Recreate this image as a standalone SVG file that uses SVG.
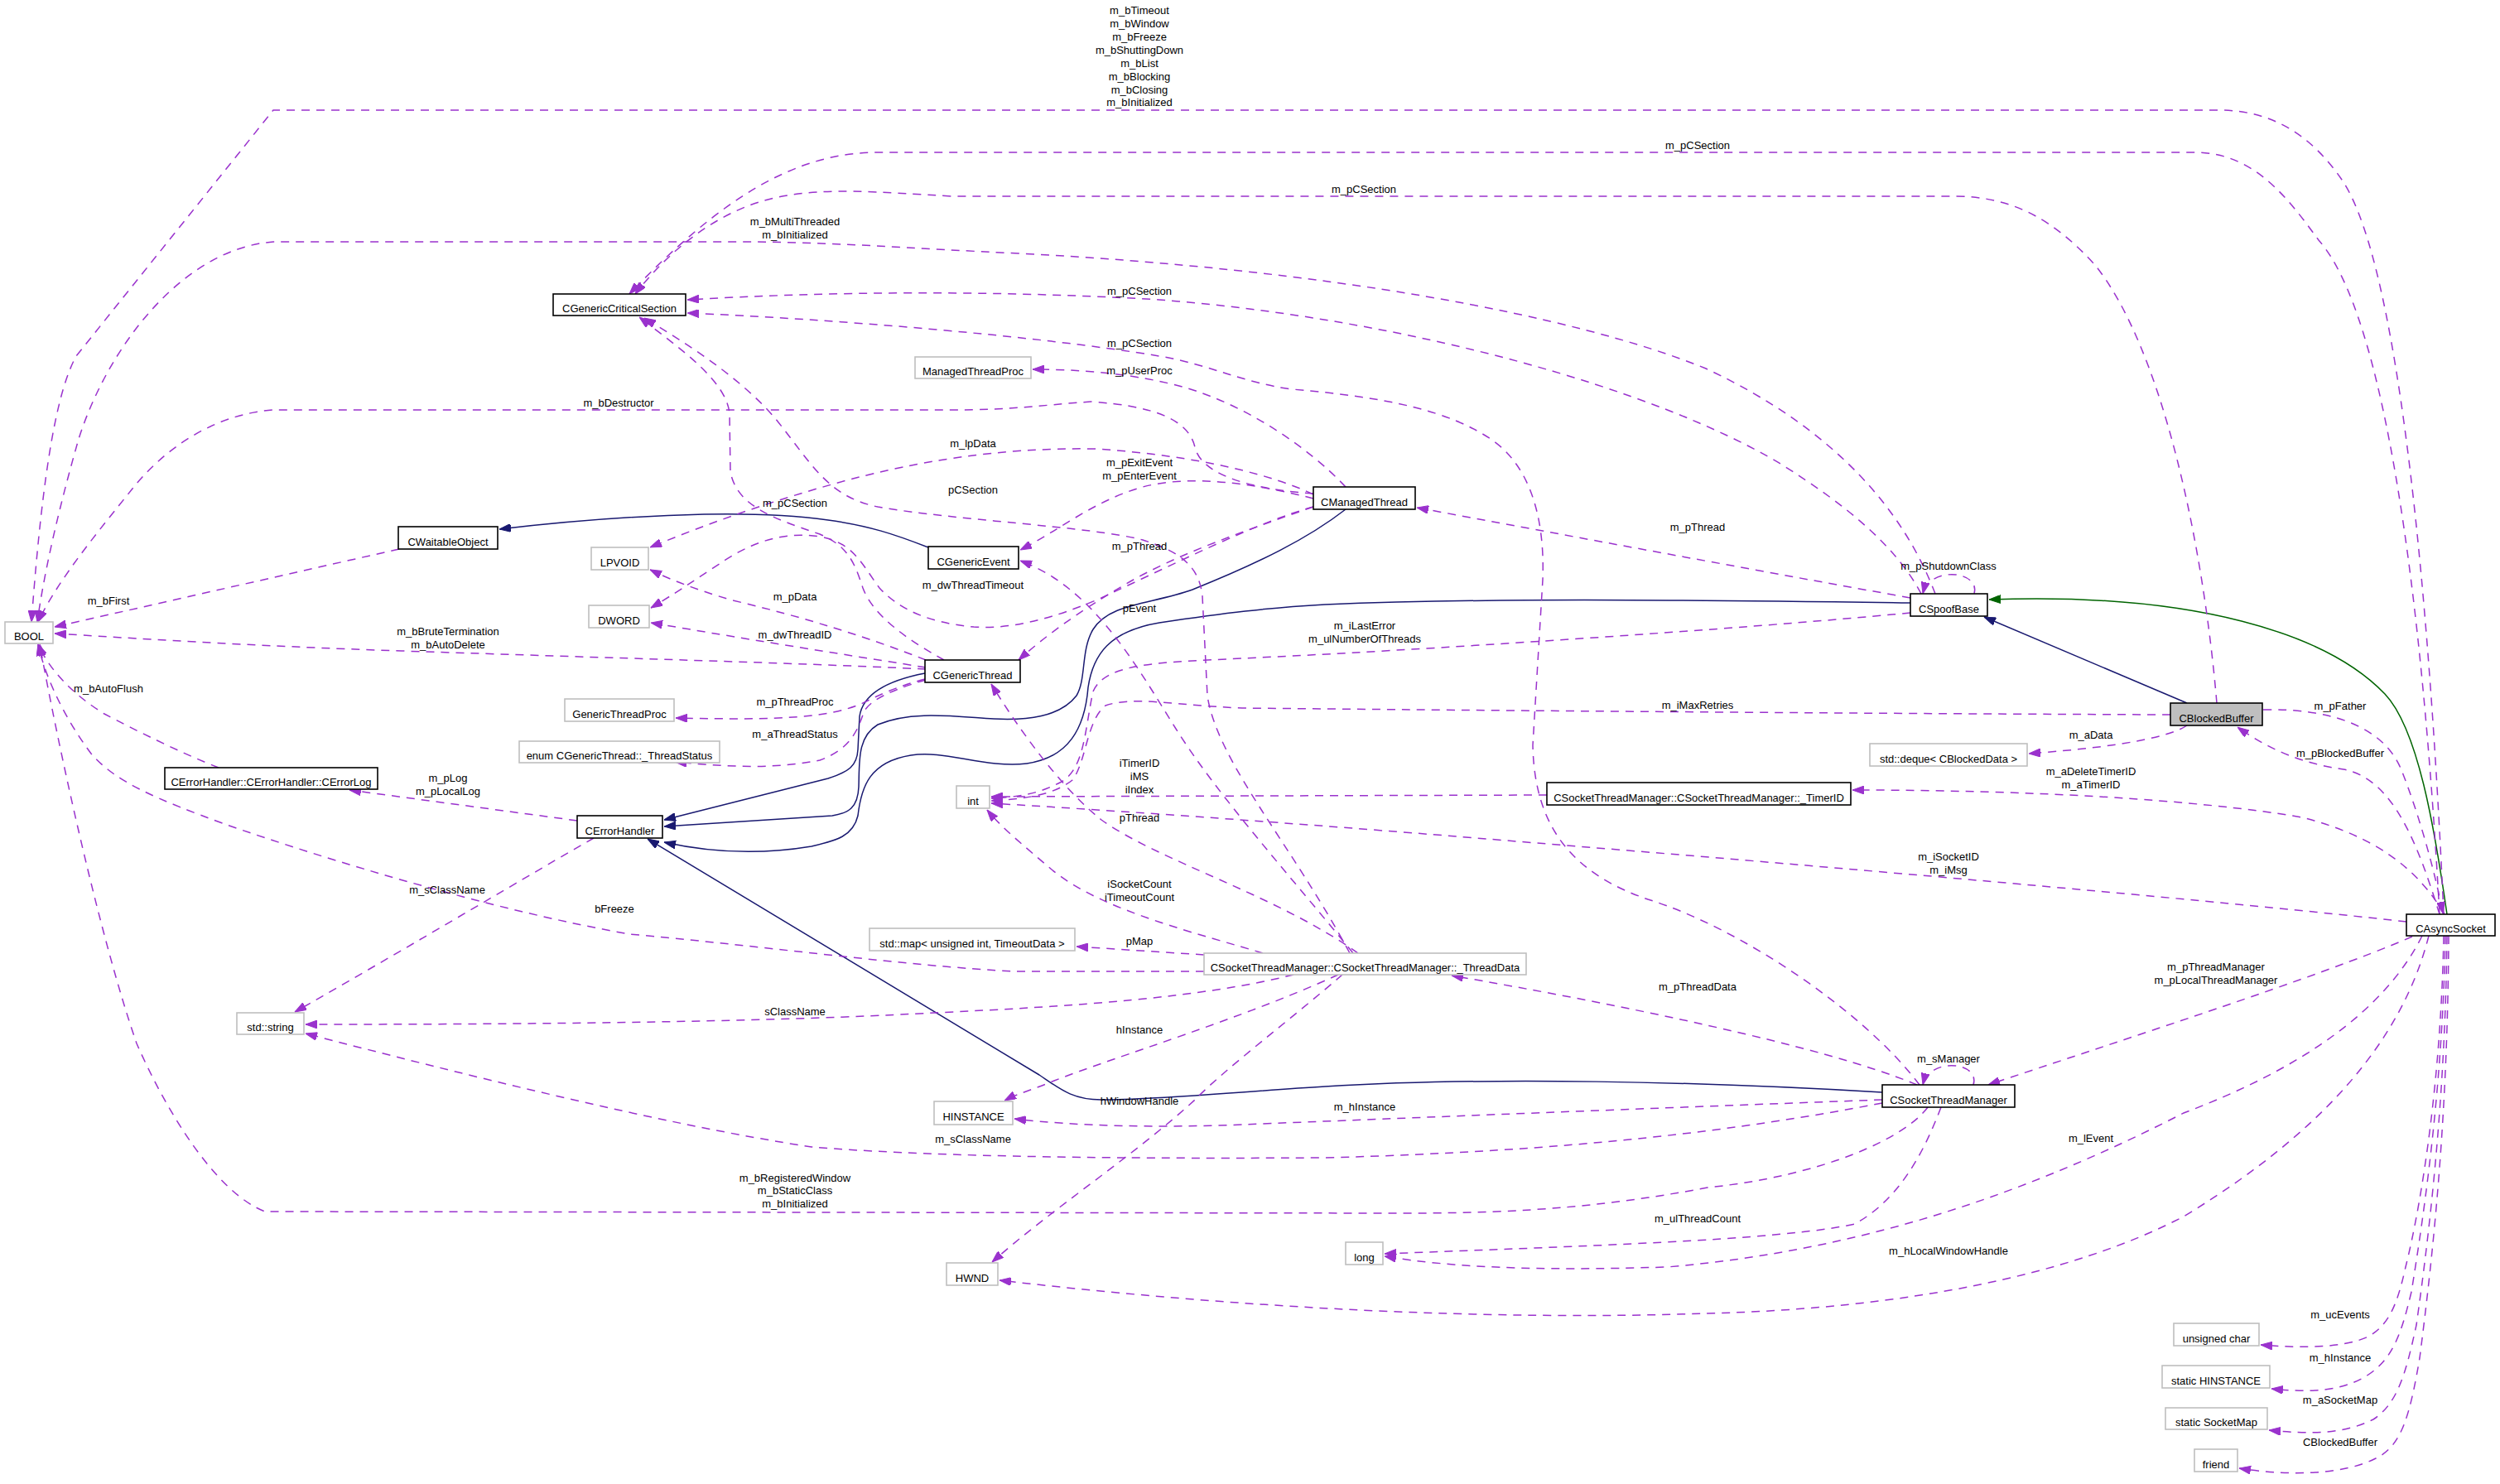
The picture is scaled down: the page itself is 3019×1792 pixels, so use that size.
<svg xmlns="http://www.w3.org/2000/svg" width="3019" height="1792" viewBox="0 0 3019 1792">
<style>
text{font-family:"Liberation Sans",Arial,sans-serif;font-size:13px;fill:#000;text-anchor:middle}
.b{fill:#fff;stroke:#000;stroke-width:1.6}
.g{fill:#fff;stroke:#bfbfbf;stroke-width:1.6}
.s{fill:#bfbfbf;stroke:#000;stroke-width:1.6}
.d{fill:none;stroke:#9a32cd;stroke-width:1.5;stroke-dasharray:10,8;marker-end:url(#ap)}
.i{fill:none;stroke:#191970;stroke-width:1.5;marker-end:url(#ab)}
.p{fill:none;stroke:#006400;stroke-width:1.5;marker-end:url(#ag)}
</style>
<defs>
<marker id="ap" viewBox="0 0 14 10" refX="14" refY="5" markerWidth="14" markerHeight="10" markerUnits="userSpaceOnUse" orient="auto"><path d="M0,0 L14,5 L0,10 z" fill="#9a32cd" stroke="#9a32cd"/></marker>
<marker id="ab" viewBox="0 0 14 10" refX="14" refY="5" markerWidth="14" markerHeight="10" markerUnits="userSpaceOnUse" orient="auto"><path d="M0,0 L14,5 L0,10 z" fill="#191970" stroke="#191970"/></marker>
<marker id="ag" viewBox="0 0 14 10" refX="14" refY="5" markerWidth="14" markerHeight="10" markerUnits="userSpaceOnUse" orient="auto"><path d="M0,0 L14,5 L0,10 z" fill="#006400" stroke="#006400"/></marker>
</defs>
<rect x="0" y="0" width="3019" height="1792" fill="#fff"/>
<g id="edges">
<path class="i" d="M1121,661 C1080,645 1050,635 1000,628 C950,621 900,620 850,621 C760,623 680,630 603,639"/>
<path class="i" d="M1117,813 C1070,822 1042,838 1038,865 L1036,905 C1035,925 1025,932 1000,940 L802,990"/>
<path class="i" d="M1625,615 C1580,650 1520,680 1440,712 C1390,730 1340,728 1320,760 C1305,785 1312,820 1300,840 C1280,866 1240,870 1200,868 C1150,865 1100,858 1060,875 C1035,890 1038,920 1037,950 C1036,975 1025,982 1005,985 L802,998"/>
<path class="i" d="M2307,728 C2000,724 1800,722 1600,730 C1530,734 1480,740 1400,752 C1340,762 1320,790 1314,830 C1310,880 1290,915 1240,922 C1190,928 1140,905 1100,912 C1050,920 1040,950 1036,985 C1030,1010 1010,1015 980,1022 C920,1032 860,1030 802,1017"/>
<path class="i" d="M2273,1319 C2050,1306 1800,1300 1600,1312 C1500,1318 1400,1328 1330,1328 C1295,1328 1280,1315 1255,1298 L782,1013"/>
<path class="i" d="M2641,849 L2396,745"/>
<path class="p" d="M2955,1104 C2940,1000 2920,880 2880,838 C2810,765 2650,715 2402,724"/>

<path class="d" d="M2951,1104 C2935,750 2900,330 2830,220 C2790,160 2740,133 2680,133 L330,133 L92,430 C70,470 52,560 38,751"/>
<path class="d" d="M2946,1104 C2925,720 2880,380 2800,290 C2760,235 2720,184 2650,184 L1060,184 C960,184 870,240 760,355"/>
<path class="d" d="M2677,849 C2660,650 2610,420 2530,320 C2480,265 2430,237 2360,237 L1150,237 C1060,232 1000,226 940,238 C870,252 810,300 767,355"/>
<path class="d" d="M2337,717 C2300,620 2220,520 2060,445 C1900,380 1600,325 1230,306 C1100,300 1000,292 900,292 L330,292 C220,300 130,420 95,530 C75,600 55,680 45,751"/>
<path class="d" d="M2320,717 C2290,660 2230,610 2150,560 C2000,470 1700,385 1400,362 C1200,350 1000,352 830,362"/>
<path class="d" d="M2318,1310 C2250,1220 2100,1120 1990,1086 C1900,1055 1853,1000 1851,900 L1863,700 C1866,620 1845,560 1800,530 C1750,497 1680,480 1560,470 C1500,462 1460,440 1400,430 C1250,405 1000,385 830,378"/>
<path class="d" d="M1140,797 C1100,775 1055,745 1042,710 C1032,680 1025,660 990,645 C930,625 890,610 882,570 L881,500 C878,460 820,420 772,383"/>
<path class="d" d="M1630,1151 C1560,1020 1470,920 1458,840 L1452,720 C1448,680 1420,665 1380,652 C1320,636 1150,628 1060,612 C1000,600 980,560 940,510 C900,460 830,415 778,384"/>
<path class="d" d="M1586,596 C1500,590 1450,570 1443,540 C1435,505 1390,490 1317,485 C1250,490 1220,495 1150,495 L330,495 C260,500 200,540 160,590 C120,640 70,700 46,751"/>
<path class="d" d="M1586,602 C1520,585 1440,572 1380,588 C1320,605 1280,640 1232,664"/>
<path class="d" d="M1625,588 C1580,540 1500,485 1420,465 C1360,450 1300,446 1247,446"/>
<path class="d" d="M1586,597 C1540,575 1450,550 1322,542 C1200,540 1100,560 1030,578 C940,602 860,630 785,661"/>
<path class="d" d="M1118,797 C1050,770 970,745 885,725 C840,712 810,700 785,688"/>
<path class="d" d="M1586,612 C1520,630 1420,680 1330,722 C1270,748 1220,760 1176,757 C1120,752 1085,735 1062,710 C1040,680 1030,655 990,648 C940,640 900,660 870,680 C840,700 810,720 786,734"/>
<path class="d" d="M1118,806 C1050,795 950,780 786,752"/>
<path class="d" d="M1118,808 C950,800 750,795 485,786 C300,780 150,770 66,765"/>
<path class="d" d="M482,663 L66,757"/>
<path class="d" d="M1117,820 C1080,830 1060,840 1040,850 C1000,866 950,870 816,867"/>
<path class="d" d="M1118,821 C1080,832 1050,845 1043,860 C1035,885 1025,905 990,918 C930,930 870,925 815,920"/>
<path class="d" d="M697,991 L422,954"/>
<path class="d" d="M264,927 C220,910 160,880 126,862 C90,840 60,810 46,778"/>
<path class="d" d="M717,1012 C650,1050 500,1140 356,1222"/>
<path class="d" d="M1454,1173 L1225,1173 C1100,1167 900,1140 760,1128 C600,1100 400,1040 271,995 C190,965 140,945 110,910 C80,870 55,820 46,778"/>
<path class="d" d="M1562,1177 C1450,1205 1300,1215 1128,1223 C1000,1230 800,1237 369,1237"/>
<path class="d" d="M2273,1332 C2100,1365 1900,1390 1600,1398 C1300,1400 1100,1395 980,1385 C800,1358 550,1295 369,1248"/>
<path class="d" d="M2273,1328 C2000,1338 1700,1350 1500,1358 C1400,1362 1300,1360 1225,1351"/>
<path class="d" d="M1616,1177 C1500,1230 1350,1275 1273,1305 C1250,1315 1230,1320 1213,1329"/>
<path class="d" d="M1621,1177 C1560,1230 1480,1290 1443,1328 C1370,1395 1270,1460 1198,1524"/>
<path class="d" d="M2933,1130 C2900,1260 2800,1370 2637,1469 C2500,1540 2300,1580 2062,1586 C1800,1595 1500,1580 1207,1546"/>
<path class="d" d="M2925,1130 C2880,1220 2780,1290 2637,1344 C2450,1440 2250,1510 2013,1530 C1850,1535 1750,1530 1672,1517"/>
<path class="d" d="M2344,1337 C2320,1400 2290,1450 2240,1478 C2150,1498 1900,1505 1672,1514"/>
<path class="d" d="M2328,1337 C2300,1375 2200,1420 2062,1434 C1950,1455 1850,1465 1700,1465 L320,1463 C260,1440 200,1340 165,1260 C120,1130 70,900 48,778"/>
<path class="d" d="M2315,1310 C2200,1262 1950,1212 1753,1178"/>
<path class="d" d="M2383,1310 C2392,1282 2330,1276 2322,1310"/>
<path class="d" d="M2913,1131 C2800,1180 2550,1260 2401,1310"/>
<path class="d" d="M2384,717 C2392,689 2330,683 2322,717"/>
<path class="d" d="M2307,722 C2100,685 1900,648 1711,613"/>
<path class="d" d="M1586,612 C1500,642 1420,670 1360,705 C1300,740 1260,770 1230,797"/>
<path class="d" d="M1640,1151 C1540,1080 1400,1040 1330,990 C1280,950 1230,880 1197,826"/>
<path class="d" d="M1634,1151 C1560,1060 1470,960 1420,880 C1370,800 1320,710 1232,677"/>
<path class="d" d="M1525,1151 C1450,1128 1330,1100 1270,1050 C1235,1020 1210,1000 1192,978"/>
<path class="d" d="M1454,1153 L1300,1143"/>
<path class="d" d="M1868,960 L1197,962"/>
<path class="d" d="M2307,740 C2100,760 1700,786 1500,795 C1400,800 1335,800 1320,835 C1310,880 1310,930 1280,945 C1250,960 1230,962 1197,964"/>
<path class="d" d="M2621,863 C2300,862 1800,858 1500,855 C1420,852 1370,840 1335,852 C1312,870 1312,920 1295,942 C1270,962 1230,965 1197,967"/>
<path class="d" d="M2906,1113 C2700,1090 2300,1054 1868,1019 C1700,1005 1450,985 1197,970"/>
<path class="d" d="M2952,1104 C2920,1050 2870,1010 2780,987 C2650,965 2450,954 2237,954"/>
<path class="d" d="M2641,876 C2620,890 2560,902 2450,910"/>
<path class="d" d="M2733,857 C2820,855 2880,880 2900,930 C2920,980 2940,1050 2950,1103"/>
<path class="d" d="M2946,1104 C2920,1020 2890,940 2830,929 C2780,922 2740,905 2702,878"/>
<path class="d" d="M2951,1130 C2948,1300 2925,1450 2905,1530 C2895,1575 2885,1600 2860,1614 C2830,1628 2780,1628 2730,1624"/>
<path class="d" d="M2953,1130 C2950,1300 2930,1450 2912,1560 C2900,1610 2890,1640 2860,1660 C2830,1680 2790,1682 2743,1677"/>
<path class="d" d="M2955,1130 C2953,1320 2935,1480 2918,1600 C2905,1660 2895,1695 2866,1714 C2830,1732 2790,1732 2740,1727"/>
<path class="d" d="M2957,1130 C2956,1340 2940,1500 2922,1640 C2910,1710 2900,1745 2871,1760 C2830,1782 2760,1782 2704,1773"/>
</g>
<g id="edge-labels">
<text x="1376" y="17">m_bTimeout</text>
<text x="1376" y="33">m_bWindow</text>
<text x="1376" y="49">m_bFreeze</text>
<text x="1376" y="65">m_bShuttingDown</text>
<text x="1376" y="81">m_bList</text>
<text x="1376" y="97">m_bBlocking</text>
<text x="1376" y="113">m_bClosing</text>
<text x="1376" y="128">m_bInitialized</text>
<text x="2050" y="180">m_pCSection</text>
<text x="1647" y="233">m_pCSection</text>
<text x="960" y="272">m_bMultiThreaded</text>
<text x="960" y="288">m_bInitialized</text>
<text x="1376" y="356">m_pCSection</text>
<text x="1376" y="419">m_pCSection</text>
<text x="1376" y="452">m_pUserProc</text>
<text x="747" y="491">m_bDestructor</text>
<text x="1175" y="540">m_lpData</text>
<text x="1376" y="563">m_pExitEvent</text>
<text x="1376" y="579">m_pEnterEvent</text>
<text x="1175" y="596">pCSection</text>
<text x="960" y="612">m_pCSection</text>
<text x="2050" y="641">m_pThread</text>
<text x="1376" y="664">m_pThread</text>
<text x="2353" y="688">m_pShutdownClass</text>
<text x="1175" y="711">m_dwThreadTimeout</text>
<text x="960" y="725">m_pData</text>
<text x="131" y="730">m_bFirst</text>
<text x="1376" y="739">pEvent</text>
<text x="1648" y="760">m_iLastError</text>
<text x="1648" y="776">m_ulNumberOfThreads</text>
<text x="541" y="767">m_bBruteTermination</text>
<text x="541" y="783">m_bAutoDelete</text>
<text x="960" y="771">m_dwThreadID</text>
<text x="131" y="836">m_bAutoFlush</text>
<text x="960" y="852">m_pThreadProc</text>
<text x="2050" y="856">m_iMaxRetries</text>
<text x="2826" y="857">m_pFather</text>
<text x="960" y="891">m_aThreadStatus</text>
<text x="2525" y="892">m_aData</text>
<text x="2826" y="914">m_pBlockedBuffer</text>
<text x="1376" y="926">iTimerID</text>
<text x="1376" y="942">iMS</text>
<text x="1376" y="958">iIndex</text>
<text x="2525" y="936">m_aDeleteTimerID</text>
<text x="2525" y="952">m_aTimerID</text>
<text x="541" y="944">m_pLog</text>
<text x="541" y="960">m_pLocalLog</text>
<text x="1376" y="992">pThread</text>
<text x="2353" y="1039">m_iSocketID</text>
<text x="2353" y="1055">m_iMsg</text>
<text x="1376" y="1072">iSocketCount</text>
<text x="1376" y="1088">iTimeoutCount</text>
<text x="540" y="1079">m_sClassName</text>
<text x="742" y="1102">bFreeze</text>
<text x="1376" y="1141">pMap</text>
<text x="2676" y="1172">m_pThreadManager</text>
<text x="2676" y="1188">m_pLocalThreadManager</text>
<text x="2050" y="1196">m_pThreadData</text>
<text x="960" y="1226">sClassName</text>
<text x="1376" y="1248">hInstance</text>
<text x="2353" y="1283">m_sManager</text>
<text x="1376" y="1334">hWindowHandle</text>
<text x="1648" y="1341">m_hInstance</text>
<text x="2525" y="1379">m_lEvent</text>
<text x="1175" y="1380">m_sClassName</text>
<text x="960" y="1427">m_bRegisteredWindow</text>
<text x="960" y="1442">m_bStaticClass</text>
<text x="960" y="1458">m_bInitialized</text>
<text x="2050" y="1476">m_ulThreadCount</text>
<text x="2353" y="1515">m_hLocalWindowHandle</text>
<text x="2826" y="1592">m_ucEvents</text>
<text x="2826" y="1644">m_hInstance</text>
<text x="2826" y="1695">m_aSocketMap</text>
<text x="2826" y="1746">CBlockedBuffer</text>
</g>
<g id="CGenericCriticalSection"><rect class="b" x="668" y="355" width="160" height="26"/><text x="748" y="377">CGenericCriticalSection</text></g>
<g id="ManagedThreadProc"><rect class="g" x="1105" y="431" width="140" height="26"/><text x="1175" y="453">ManagedThreadProc</text></g>
<g id="CManagedThread"><rect class="b" x="1586" y="588" width="123" height="27"/><text x="1647.5" y="610.5">CManagedThread</text></g>
<g id="CWaitableObject"><rect class="b" x="481" y="636" width="120" height="27"/><text x="541" y="658.5">CWaitableObject</text></g>
<g id="LPVOID"><rect class="g" x="714" y="661" width="69" height="27"/><text x="748.5" y="683.5">LPVOID</text></g>
<g id="DWORD"><rect class="g" x="711" y="731" width="73" height="27"/><text x="747.5" y="753.5">DWORD</text></g>
<g id="CGenericEvent"><rect class="b" x="1121" y="660" width="109" height="27"/><text x="1175.5" y="682.5">CGenericEvent</text></g>
<g id="CGenericThread"><rect class="b" x="1117" y="797" width="115" height="27"/><text x="1174.5" y="819.5">CGenericThread</text></g>
<g id="GenericThreadProc"><rect class="g" x="682" y="844" width="132" height="27"/><text x="748" y="866.5">GenericThreadProc</text></g>
<g id="ThreadStatus"><rect class="g" x="627" y="895" width="242" height="26"/><text x="748" y="917">enum CGenericThread::_ThreadStatus</text></g>
<g id="BOOL"><rect class="g" x="6" y="751" width="58" height="26"/><text x="35" y="773">BOOL</text></g>
<g id="CErrorLog"><rect class="b" x="199" y="927" width="257" height="26"/><text x="327.5" y="949">CErrorHandler::CErrorHandler::CErrorLog</text></g>
<g id="CErrorHandler"><rect class="b" x="697" y="985" width="103" height="27"/><text x="748.5" y="1007.5">CErrorHandler</text></g>
<g id="int"><rect class="g" x="1155" y="949" width="40" height="27"/><text x="1175" y="971.5">int</text></g>
<g id="stdmap"><rect class="g" x="1050" y="1121" width="248" height="27"/><text x="1174" y="1143.5">std::map&lt; unsigned int, TimeoutData &gt;</text></g>
<g id="ThreadData"><rect class="g" x="1454" y="1151" width="389" height="26"/><text x="1648.5" y="1173">CSocketThreadManager::CSocketThreadManager::_ThreadData</text></g>
<g id="stdstring"><rect class="g" x="286" y="1223" width="81" height="26"/><text x="326.5" y="1245">std::string</text></g>
<g id="HINSTANCE"><rect class="g" x="1128" y="1330" width="95" height="28"/><text x="1175.5" y="1353">HINSTANCE</text></g>
<g id="HWND"><rect class="g" x="1143" y="1525" width="62" height="27"/><text x="1174" y="1547.5">HWND</text></g>
<g id="long"><rect class="g" x="1625" y="1500" width="45" height="27"/><text x="1647.5" y="1522.5">long</text></g>
<g id="CSpoofBase"><rect class="b" x="2307" y="717" width="93" height="27"/><text x="2353.5" y="739.5">CSpoofBase</text></g>
<g id="CBlockedBuffer"><rect class="s" x="2621" y="849" width="111" height="27"/><text x="2676.5" y="871.5">CBlockedBuffer</text></g>
<g id="stddeque"><rect class="g" x="2258" y="898" width="190" height="27"/><text x="2353" y="920.5">std::deque&lt; CBlockedData &gt;</text></g>
<g id="TimerID"><rect class="b" x="1868" y="945" width="367" height="27"/><text x="2051.5" y="967.5">CSocketThreadManager::CSocketThreadManager::_TimerID</text></g>
<g id="CAsyncSocket"><rect class="b" x="2906" y="1104" width="107" height="26"/><text x="2959.5" y="1126">CAsyncSocket</text></g>
<g id="CSocketThreadManager"><rect class="b" x="2273" y="1310" width="160" height="27"/><text x="2353" y="1332.5">CSocketThreadManager</text></g>
<g id="unsignedchar"><rect class="g" x="2625" y="1598" width="103" height="27"/><text x="2676.5" y="1620.5">unsigned char</text></g>
<g id="staticHINSTANCE"><rect class="g" x="2611" y="1649" width="130" height="27"/><text x="2676" y="1671.5">static HINSTANCE</text></g>
<g id="staticSocketMap"><rect class="g" x="2615" y="1700" width="123" height="26"/><text x="2676.5" y="1722">static SocketMap</text></g>
<g id="friend"><rect class="g" x="2650" y="1750" width="52" height="27"/><text x="2676" y="1772.5">friend</text></g>
</svg>
